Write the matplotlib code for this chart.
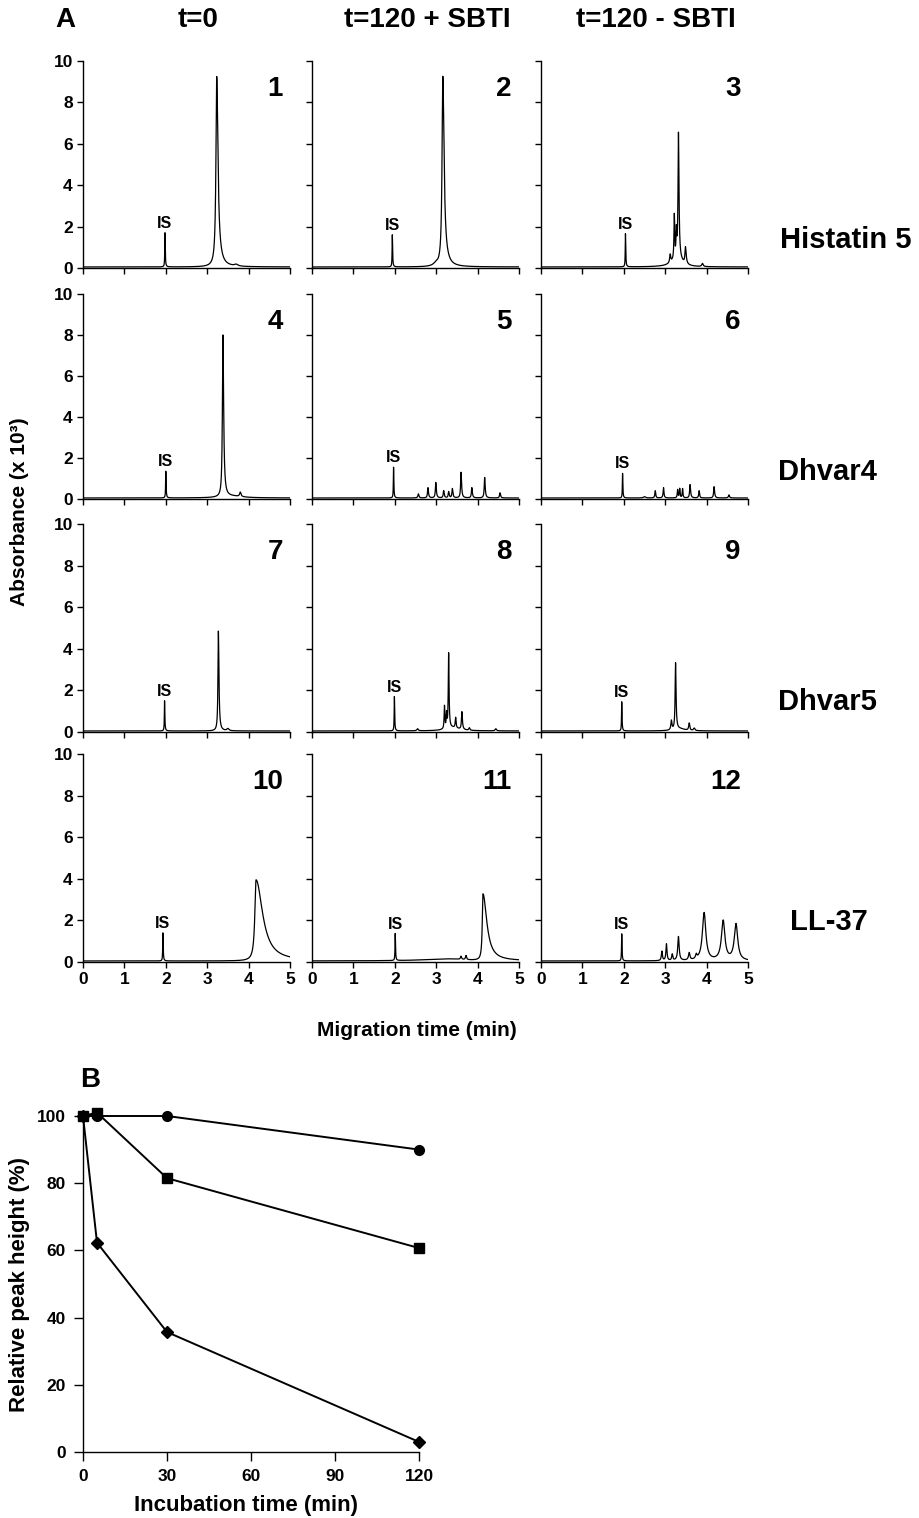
import numpy as np
import matplotlib.pyplot as plt

plt.rcParams['font.family'] = ['Liberation Sans', 'DejaVu Sans']
plt.rcParams['font.weight'] = 'bold'
plt.rcParams['axes.labelweight'] = 'bold'

conditions = ['t=0', 't=120 + SBTI', 't=120 - SBTI']
peptides = ['Histatin 5', 'Dhvar4', 'Dhvar5', 'LL-37']

# Panel A peaks:
# (migration time min, height x10^3, left width, right width); first entry is IS
hst5_t0 = [(1.98, 1.65, 0.006, 0.008), (3.23, 9.0, 0.022, 0.035), (3.26, 0.25, 0.06, 0.1),
           (3.7, 0.08, 0.05, 0.05)]
hst5_sbti = [(1.94, 1.55, 0.006, 0.008), (3.16, 9.0, 0.022, 0.035), (3.19, 0.25, 0.06, 0.1),
             (3.0, 0.12, 0.08, 0.05)]
hst5_nosbti = [(2.04, 1.6, 0.006, 0.008), (3.32, 6.0, 0.012, 0.015), (3.22, 2.1, 0.01, 0.01),
               (3.27, 1.2, 0.01, 0.01), (3.49, 0.8, 0.015, 0.02), (3.12, 0.4, 0.015, 0.015),
               (3.3, 0.45, 0.15, 0.12), (3.9, 0.15, 0.02, 0.02)]
dhvar4_t0 = [(2.0, 1.3, 0.006, 0.008), (3.38, 7.9, 0.015, 0.02), (3.8, 0.22, 0.02, 0.02),
             (3.6, 0.08, 0.3, 0.3)]
dhvar4_sbti = [(1.97, 1.5, 0.006, 0.008), (2.57, 0.2, 0.015, 0.015), (2.8, 0.5, 0.012, 0.015),
               (2.99, 0.75, 0.012, 0.015), (3.18, 0.35, 0.012, 0.015), (3.3, 0.3, 0.012, 0.015),
               (3.39, 0.45, 0.012, 0.015), (3.6, 1.25, 0.012, 0.015), (3.86, 0.5, 0.012, 0.015),
               (4.17, 1.0, 0.012, 0.015), (4.54, 0.25, 0.012, 0.015)]
dhvar4_nosbti = [(1.97, 1.2, 0.006, 0.008), (2.5, 0.06, 0.03, 0.03), (2.76, 0.35, 0.012, 0.012),
                 (2.96, 0.5, 0.012, 0.012), (3.3, 0.4, 0.01, 0.01), (3.35, 0.45, 0.01, 0.01),
                 (3.42, 0.45, 0.01, 0.01), (3.6, 0.65, 0.012, 0.015), (3.82, 0.35, 0.012, 0.012),
                 (4.18, 0.55, 0.012, 0.015), (4.54, 0.15, 0.015, 0.015)]
dhvar5_t0 = [(1.97, 1.45, 0.006, 0.008), (3.27, 4.8, 0.012, 0.016), (3.5, 0.1, 0.03, 0.03)]
dhvar5_sbti = [(1.99, 1.65, 0.006, 0.008), (3.3, 3.6, 0.01, 0.012), (3.2, 1.1, 0.01, 0.01),
               (3.25, 0.7, 0.01, 0.01), (3.47, 0.5, 0.012, 0.012), (3.62, 0.85, 0.012, 0.015),
               (3.8, 0.12, 0.015, 0.015), (4.44, 0.1, 0.02, 0.02), (2.55, 0.1, 0.02, 0.02),
               (3.4, 0.15, 0.2, 0.2)]
dhvar5_nosbti = [(1.95, 1.4, 0.006, 0.008), (3.25, 3.2, 0.012, 0.014), (3.15, 0.45, 0.015, 0.015),
                 (3.58, 0.35, 0.015, 0.015), (3.7, 0.12, 0.02, 0.02), (3.35, 0.1, 0.15, 0.15)]
ll37_t0 = [(1.93, 1.35, 0.006, 0.008), (4.18, 3.9, 0.035, 0.19)]
ll37_sbti = [(2.01, 1.3, 0.006, 0.008), (4.13, 3.2, 0.02, 0.11), (3.6, 0.15, 0.015, 0.015),
             (3.72, 0.2, 0.015, 0.015), (3.3, 0.1, 0.7, 0.5)]
ll37_nosbti = [(1.95, 1.3, 0.006, 0.008), (2.92, 0.45, 0.015, 0.015), (3.03, 0.8, 0.015, 0.015),
               (3.17, 0.3, 0.015, 0.015), (3.32, 1.15, 0.02, 0.02), (3.58, 0.35, 0.02, 0.02),
               (3.75, 0.2, 0.02, 0.02), (3.94, 2.3, 0.05, 0.05), (4.4, 1.9, 0.05, 0.05),
               (4.71, 1.75, 0.05, 0.05)]

panels = [[hst5_t0, hst5_sbti, hst5_nosbti],
          [dhvar4_t0, dhvar4_sbti, dhvar4_nosbti],
          [dhvar5_t0, dhvar5_sbti, dhvar5_nosbti],
          [ll37_t0, ll37_sbti, ll37_nosbti]]

# Panel B: relative peak height (%) vs incubation time
incubation_min = [0, 5, 30, 120]
height_circles = [100, 100, 100, 90]
height_squares = [100, 101, 81.5, 60.7]
height_diamonds = [100, 62.3, 35.7, 3]


def trace(t, peaks):
    y = np.full_like(t, 0.05)
    for pos, h, wl, wr in peaks:
        w = np.where(t < pos, wl, wr)
        y += h / (1 + ((t - pos) / w) ** 2)
    return y


W, H = 920, 1518
fig = plt.figure(figsize=(W / 100, H / 100), dpi=100)


def add_ax(left, top, right, bottom):
    return fig.add_axes([left / W, 1 - bottom / H, (right - left) / W, (bottom - top) / H])


def style(ax, ticklen=4.3, labelsize=12.5, pad=3):
    for s in ['top', 'right']:
        ax.spines[s].set_visible(False)
    for s in ['left', 'bottom']:
        ax.spines[s].set_linewidth(1.0)
    ax.tick_params(direction='out', length=ticklen, width=1.0, labelsize=labelsize, pad=pad)


col_left = [83, 312, 541]
row_top = [61, 294, 524, 754]
row_bot = [268, 499, 732, 962]
t = np.linspace(0, 5, 3001)

n = 1
for r in range(4):
    for c in range(3):
        ax = add_ax(col_left[c], row_top[r], col_left[c] + 207, row_bot[r])
        style(ax)
        peaks = panels[r][c]
        ax.plot(t, trace(t, peaks), color='black', lw=0.9)
        ax.set_xlim(0, 5)
        ax.set_ylim(0, 10)
        ax.set_xticks(range(6))
        ax.set_yticks(range(0, 11, 2))
        if c > 0:
            ax.set_yticklabels([])
        if r < 3:
            ax.set_xticklabels([])
        is_pos, is_h = peaks[0][0], peaks[0][1]
        ax.text(is_pos, is_h + 0.15, 'IS', ha='center', va='bottom', fontsize=11.5)
        ax.text(0.965, 0.865, str(n), transform=ax.transAxes, ha='right', va='center',
                fontsize=20)
        n += 1

for c, name in enumerate(conditions):
    fig.text((col_left[c] + 115) / W, 1 - 20 / H, name, ha='center', va='center', fontsize=20)
fig.text(65 / W, 1 - 20 / H, 'A', ha='center', va='center', fontsize=20)

row_label_y = [240, 472, 702, 922]
row_label_x = [780, 778, 778, 790]
for r, name in enumerate(peptides):
    fig.text(row_label_x[r] / W, 1 - row_label_y[r] / H, name, ha='left', va='center', fontsize=21)

fig.text(20 / W, 1 - 512 / H, 'Absorbance (x 10³)', rotation=90, ha='center', va='center',
         fontsize=15)
fig.text(417 / W, 1 - 1030 / H, 'Migration time (min)', ha='center', va='center', fontsize=15)

# Panel B
axb = add_ax(83, 1116, 419, 1452)
style(axb, ticklen=6.5, labelsize=12.5, pad=6)
kw = dict(color='black', lw=1.4, clip_on=False)
axb.plot(incubation_min, height_circles, marker='o', markersize=7, **kw)
axb.plot(incubation_min, height_squares, marker='s', markersize=7, **kw)
axb.plot(incubation_min, height_diamonds, marker='D', markersize=6, **kw)
axb.set_xlim(0, 120)
axb.set_ylim(0, 100)
axb.set_xticks([0, 30, 60, 90, 120])
axb.set_yticks(range(0, 101, 20))
fig.text(20 / W, 1 - 1284 / H, 'Relative peak height (%)', rotation=90, ha='center',
         va='center', fontsize=16)
fig.text(246 / W, 1 - 1506 / H, 'Incubation time (min)', ha='center', va='center', fontsize=16)
fig.text(90 / W, 1 - 1080 / H, 'B', ha='center', va='center', fontsize=20)

fig.savefig('out.png', dpi=100)
